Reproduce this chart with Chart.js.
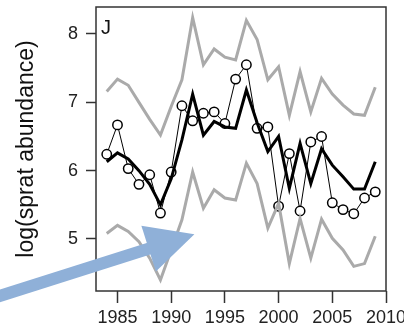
<!DOCTYPE html>
<html>
<head>
<meta charset="utf-8">
<script src="https://cdn.jsdelivr.net/npm/chart.js@4"></script>
<style>
  body { margin: 0; background: #fff; }
  canvas { display: block; }
</style>
</head>
<body>
<canvas id="myChart" width="404" height="328"></canvas>
<script>
// data (panel J)
const years = [1984,1985,1986,1987,1988,1989,1990,1991,1992,1993,1994,1995,1996,
               1997,1998,1999,2000,2001,2002,2003,2004,2005,2006,2007,2008,2009];
const upper = [7.16,7.34,7.25,7.00,6.75,6.52,6.94,7.33,8.24,7.55,7.78,7.66,7.62,
               8.20,7.92,7.33,7.52,6.81,7.45,6.86,7.35,7.12,6.96,6.83,6.81,7.22];
const lower = [5.08,5.20,5.11,4.96,4.72,4.40,4.84,5.28,5.98,5.45,5.72,5.60,5.57,
               6.11,5.81,5.16,5.52,4.64,5.30,4.72,5.29,5.01,4.84,4.60,4.64,5.04];
const estimate = [6.13,6.26,6.17,6.00,5.80,5.50,5.88,6.45,7.12,6.52,6.72,6.64,6.62,
                  7.18,6.70,6.28,6.50,5.74,6.40,5.81,6.32,6.08,5.91,5.73,5.73,6.13];
const observed = [6.24,6.67,6.03,5.80,5.94,5.38,5.98,6.95,6.73,6.84,6.86,6.69,7.34,
                  7.55,6.62,6.64,5.48,6.25,5.41,6.42,6.50,5.53,5.43,5.37,5.60,5.69];
const xTicks = [1985,1990,1995,2000,2005,2010];
const yTicks = [5,6,7,8];
const panelLabel = 'J';
const yTitle = 'log(sprat abundance)';
// arrow annotation, in data units [year, value]
const arrowFrom = [1973.1, 4.12];
const arrowTo = [1992.16, 5.07];

function toXY(arr) {
    return years.map((yr, i) => ({x: yr, y: arr[i]}));
}

const frame = {
    id: 'frame',
    afterDraw(chart) {
        const c = chart.ctx;
        const a = chart.chartArea;
        c.save();
        c.strokeStyle = '#333';
        c.lineWidth = 1.5;
        c.strokeRect(a.left, a.top, a.right - a.left, a.bottom - a.top);

        c.fillStyle = '#111';
        c.font = '20px "Liberation Sans", Arial, sans-serif';
        c.textBaseline = 'alphabetic';
        c.fillText(panelLabel, a.left + 5, a.top + 27);

        // blue arrow
        const xs = chart.scales.x, ys = chart.scales.y;
        const x0 = xs.getPixelForValue(arrowFrom[0]), y0 = ys.getPixelForValue(arrowFrom[1]);
        const x1 = xs.getPixelForValue(arrowTo[0]), y1 = ys.getPixelForValue(arrowTo[1]);
        const len = Math.hypot(x1 - x0, y1 - y0);
        const dx = (x1 - x0) / len, dy = (y1 - y0) / len;
        const headLen = 48, headHalf = 24;
        const bx = x1 - dx * headLen, by = y1 - dy * headLen;
        c.strokeStyle = '#8fb0d8';
        c.fillStyle = '#8fb0d8';
        c.lineWidth = 12;
        c.beginPath();
        c.moveTo(x0, y0);
        c.lineTo(bx + dx * 4, by + dy * 4);
        c.stroke();
        c.beginPath();
        c.moveTo(x1, y1);
        c.lineTo(bx - dy * headHalf, by + dx * headHalf);
        c.lineTo(bx + dy * headHalf, by - dx * headHalf);
        c.closePath();
        c.fill();
        c.restore();
    }
};

const ctx = document.getElementById('myChart');
new Chart(ctx, {
    type: 'line',
    data: {
        datasets: [
            {data: toXY(upper), borderColor: '#aaaaaa', borderWidth: 3, pointRadius: 0, order: 1},
            {data: toXY(lower), borderColor: '#aaaaaa', borderWidth: 3, pointRadius: 0, order: 1},
            {data: toXY(estimate), borderColor: '#000', borderWidth: 3, pointRadius: 0, order: 0},
            {data: toXY(observed), borderColor: '#000', borderWidth: 1, pointRadius: 4.7,
             pointBorderWidth: 1.5, pointBackgroundColor: '#fff', pointBorderColor: '#000', order: 2}
        ]
    },
    options: {
        responsive: false,
        animation: false,
        layout: {padding: {top: 7, right: 18, left: 0, bottom: 0}},
        plugins: {legend: {display: false}, tooltip: {enabled: false}},
        scales: {
            x: {
                type: 'linear',
                min: 1983,
                max: 2010,
                afterBuildTicks: (s) => { s.ticks = xTicks.map(v => ({value: v})); },
                afterFit: (s) => { s.height = 37; s.paddingLeft = 0; s.paddingRight = 0; },
                grid: {drawOnChartArea: false, drawTicks: true, tickLength: 12, tickColor: '#333', tickWidth: 1.5},
                border: {display: false},
                ticks: {
                    autoSkip: false, maxRotation: 0, padding: 4, color: '#222',
                    font: {family: '"Liberation Sans", Arial, sans-serif', size: 18},
                    callback: (v) => String(v)
                }
            },
            y: {
                min: 4.239,
                max: 8.395,
                afterBuildTicks: (s) => { s.ticks = yTicks.map(v => ({value: v})); },
                afterFit: (s) => { s.width = 96; s.paddingTop = 0; s.paddingBottom = 0; },
                grid: {drawOnChartArea: false, drawTicks: true, tickLength: 10, tickColor: '#333', tickWidth: 1.5},
                border: {display: false},
                ticks: {
                    padding: 8, color: '#222',
                    font: {family: '"Liberation Sans", Arial, sans-serif', size: 18}
                },
                title: {
                    display: true, text: yTitle, color: '#111',
                    padding: {top: 13, bottom: 0},
                    font: {family: '"Liberation Sans", Arial, sans-serif', size: 23}
                }
            }
        }
    },
    plugins: [frame]
});
</script>
</body>
</html>
